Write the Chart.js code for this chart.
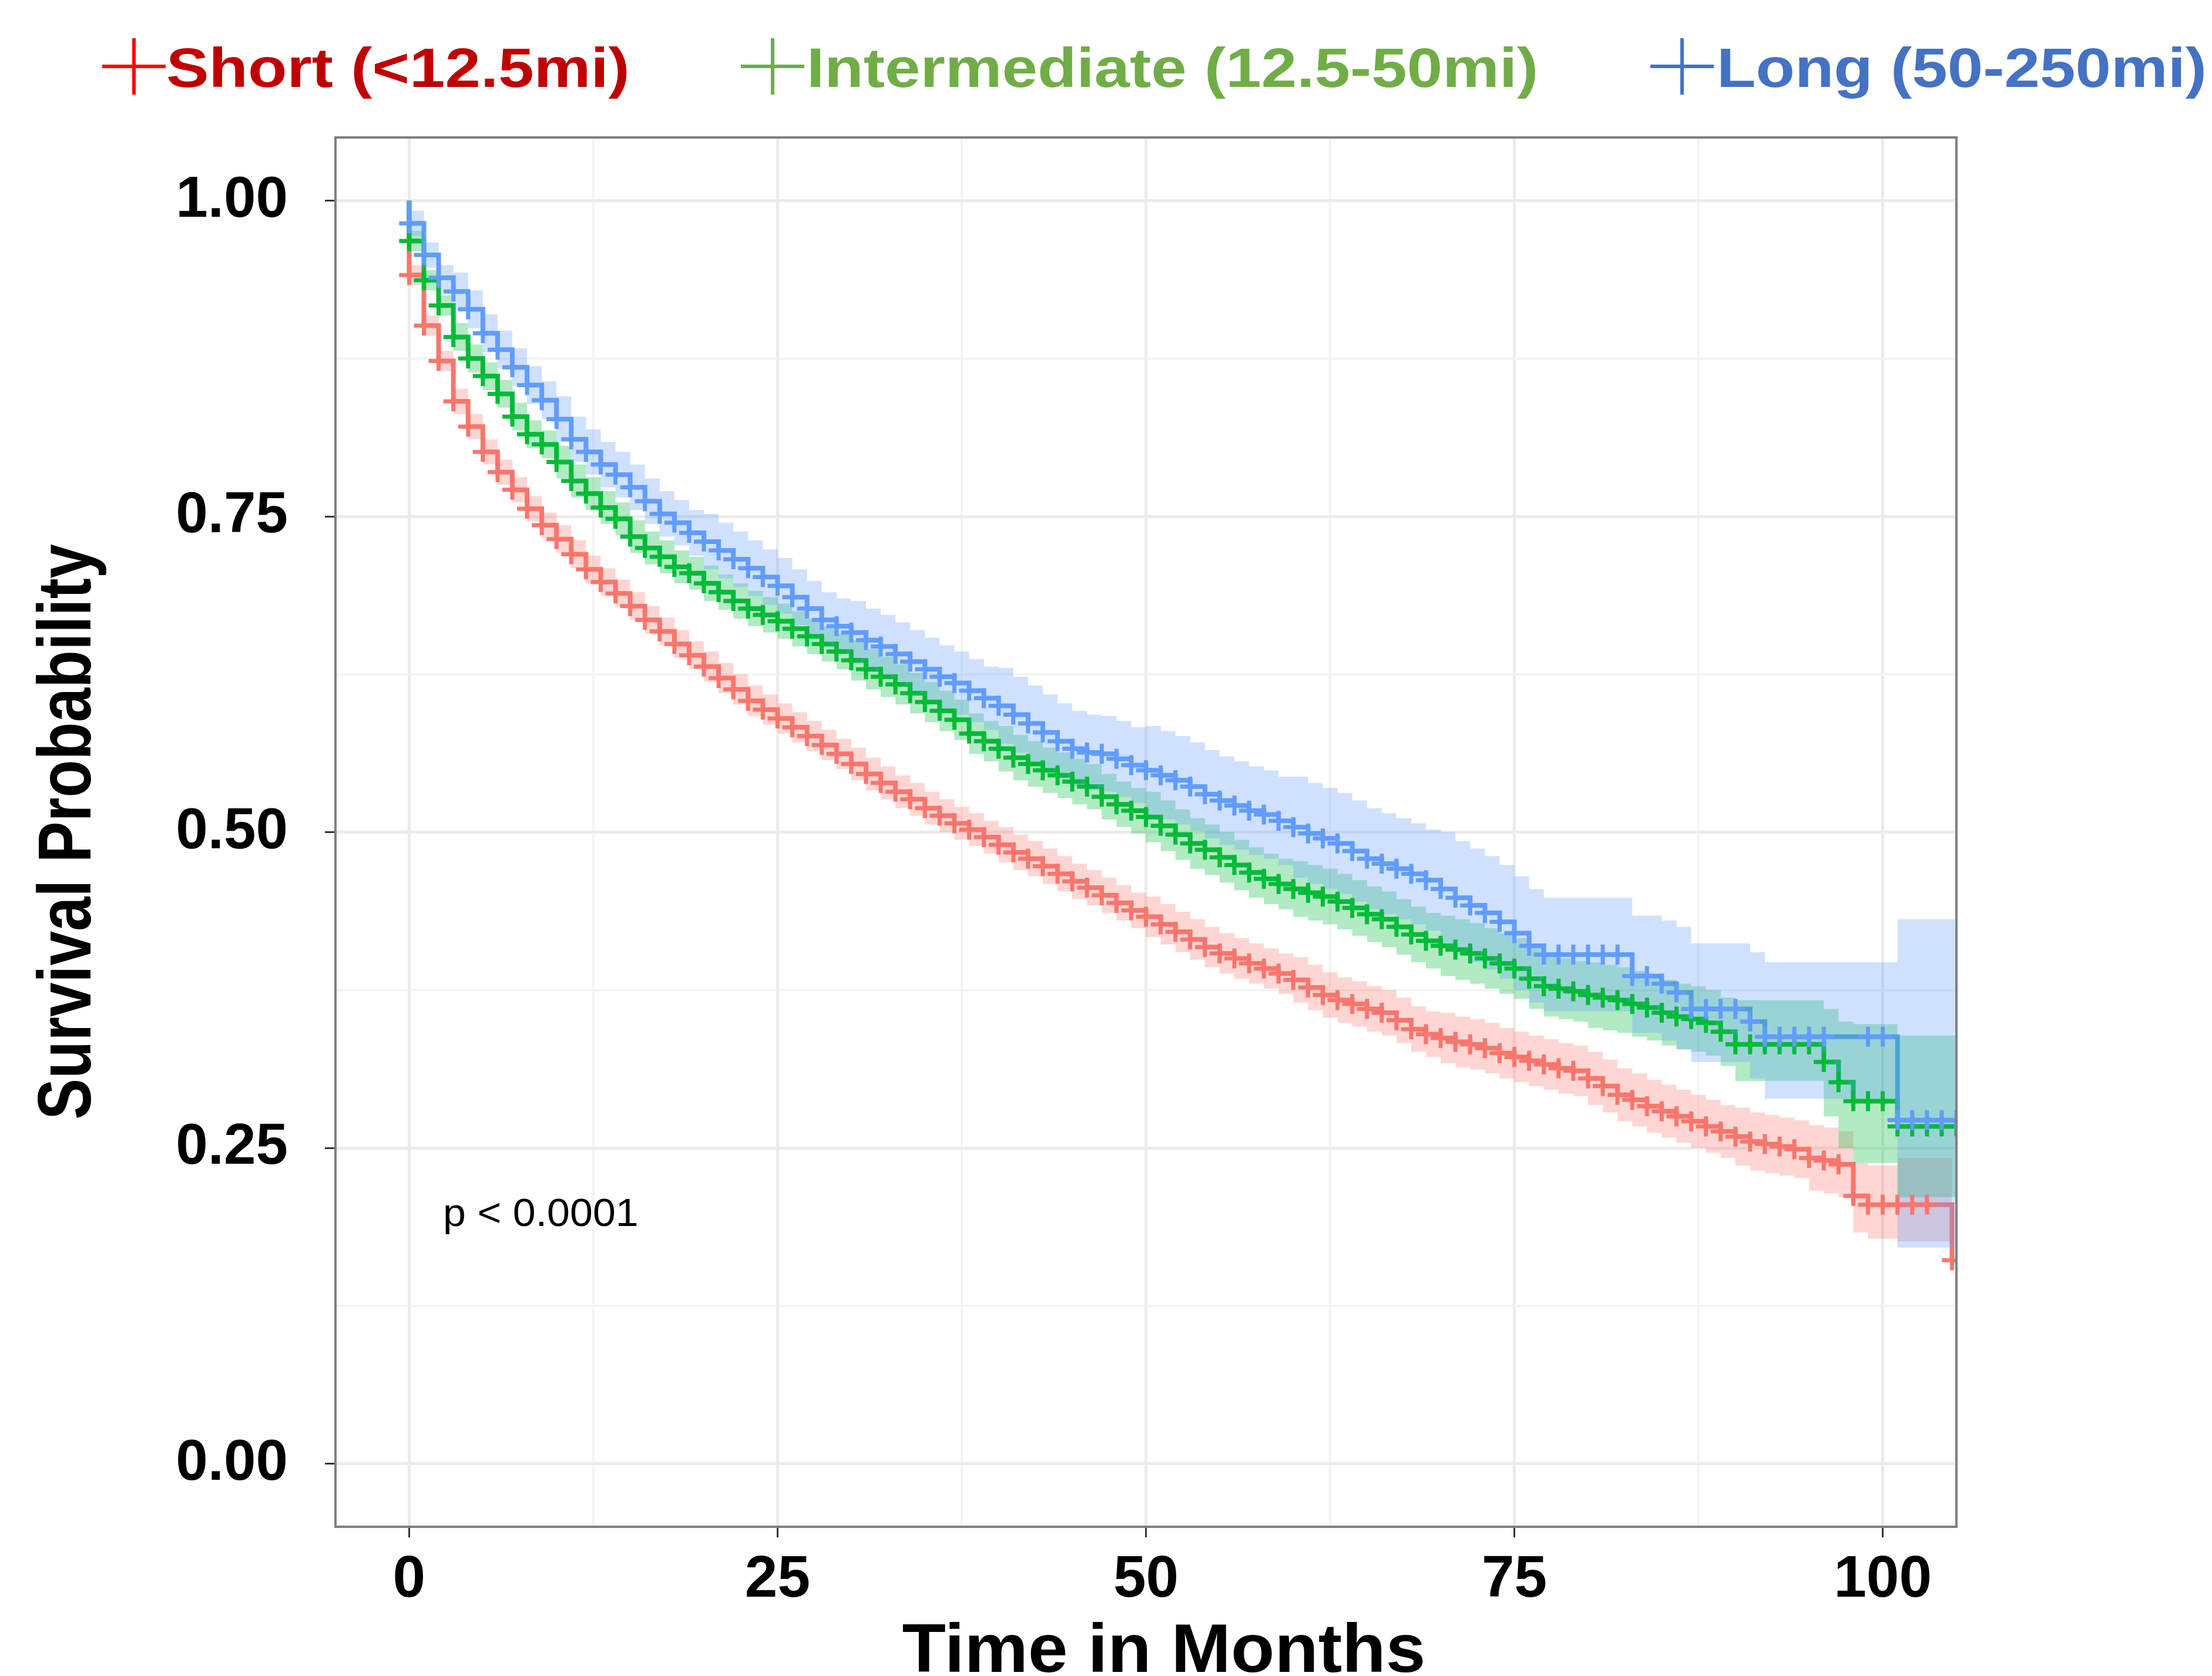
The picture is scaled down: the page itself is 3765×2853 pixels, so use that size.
<!DOCTYPE html>
<html>
<head>
<meta charset="utf-8">
<title>Survival by travel distance</title>
<script src="https://cdn.jsdelivr.net/npm/chart.js@4.4.1/dist/chart.umd.min.js"></script>
<style>
  html, body { margin: 0; padding: 0; background: #ffffff; }
  #chart-wrapper { width: 3765px; height: 2853px; position: relative; }
</style>
</head>
<body>
<div id="chart-wrapper"><canvas id="survivalChart"></canvas></div>
<script>
// Kaplan-Meier estimates (months, survival, 95% band)
const shortMonths = [0,1,2,3,4,5,6,7,8,9,10,11,12,13,14,15,16,17,18,19,20,21,22,23,24,25,26,27,28,29,30,31,32,33,34,35,36,37,38,39,40,41,42,43,44,45,46,47,48,49,50,51,52,53,54,55,56,57,58,59,60,61,62,63,64,65,66,67,68,69,70,71,72,73,74,75,76,77,78,79,80,81,82,83,84,85,86,87,88,89,90,91,92,93,94,95,96,97,98,99,100,101,102,103,104.7];
const shortSurv = [
  .941,.901,.873,.841,.821,.801,.785,.771,.756,.743,
  .732,.720,.708,.698,.689,.679,.668,.659,.649,.640,
  .631,.622,.613,.604,.597,.590,.583,.576,.569,.562,
  .554,.546,.539,.532,.526,.519,.513,.507,.502,.496,
  .490,.484,.479,.473,.467,.461,.456,.450,.444,.438,
  .433,.427,.421,.415,.409,.404,.400,.396,.392,.388,
  .383,.377,.371,.367,.364,.360,.357,.351,.344,.340,
  .337,.334,.332,.329,.325,.322,.319,.316,.313,.311,
  .305,.299,.292,.288,.283,.279,.275,.271,.267,.263,
  .259,.255,.253,.251,.249,.242,.240,.237,.212,.205,
  .205,.205,.205,.205,.161];
const shortLower = [
  .933,.893,.865,.831,.811,.791,.775,.761,.746,.733,
  .721,.709,.697,.687,.678,.668,.657,.648,.638,.629,
  .619,.610,.601,.592,.585,.578,.571,.564,.557,.550,
  .541,.533,.526,.519,.513,.506,.500,.494,.489,.483,
  .476,.470,.465,.459,.453,.447,.442,.436,.430,.424,
  .417,.411,.405,.399,.393,.388,.384,.380,.376,.372,
  .365,.359,.353,.349,.346,.342,.339,.333,.326,.322,
  .317,.314,.312,.309,.305,.302,.299,.296,.293,.291,
  .284,.278,.271,.267,.262,.258,.254,.250,.246,.242,
  .236,.232,.230,.228,.226,.216,.214,.211,.183,.178,
  .178,.176,.176,.176,.125];
const shortUpper = [
  .949,.909,.881,.851,.831,.811,.795,.781,.766,.753,
  .743,.731,.719,.709,.700,.690,.679,.670,.660,.651,
  .643,.634,.625,.616,.609,.602,.595,.588,.581,.574,
  .567,.559,.552,.545,.539,.532,.526,.520,.515,.509,
  .504,.498,.493,.487,.481,.475,.470,.464,.458,.452,
  .449,.443,.437,.431,.425,.420,.416,.412,.408,.404,
  .401,.395,.389,.385,.382,.378,.375,.369,.362,.358,
  .357,.354,.352,.349,.345,.342,.339,.336,.333,.331,
  .326,.320,.313,.309,.304,.300,.296,.292,.288,.284,
  .282,.278,.276,.274,.272,.268,.266,.263,.238,.236,
  .236,.242,.242,.242,.205];

const interMonths = [0,1,2,3,4,5,6,7,8,9,10,11,12,13,14,15,16,17,18,19,20,21,22,23,24,25,26,27,28,29,30,31,32,33,34,35,36,37,38,39,40,41,42,43,44,45,46,47,48,49,50,51,52,53,54,55,56,57,58,59,60,61,62,63,64,65,66,67,68,69,70,71,72,73,74,75,76,77,78,79,80,81,82,83,84,85,86,87,88,89,90,91,92,93,94,95,96,97,98,99,100,101,102,103,104,105];
const interSurv = [
  .968,.937,.917,.892,.875,.861,.847,.829,.815,.807,
  .793,.778,.768,.757,.748,.734,.725,.718,.710,.705,
  .697,.690,.683,.677,.672,.667,.661,.655,.649,.643,
  .636,.629,.623,.617,.610,.603,.596,.589,.578,.572,
  .566,.559,.554,.549,.545,.540,.536,.528,.522,.517,
  .512,.505,.498,.491,.486,.480,.474,.468,.463,.459,
  .455,.452,.449,.445,.440,.435,.431,.425,.419,.414,
  .410,.407,.404,.400,.396,.392,.384,.378,.376,.374,
  .371,.369,.367,.364,.361,.357,.354,.352,.349,.342,
  .332,.332,.332,.332,.332,.332,.318,.302,.287,.287,
  .287,.267,.267,.267,.267,.267];
const interLower = [
  .960,.929,.909,.881,.864,.850,.836,.818,.804,.796,
  .780,.765,.755,.744,.735,.721,.712,.705,.697,.692,
  .683,.676,.669,.663,.658,.653,.647,.641,.635,.629,
  .620,.613,.607,.601,.594,.587,.580,.573,.562,.556,
  .548,.541,.536,.531,.527,.522,.518,.510,.504,.499,
  .492,.485,.478,.471,.466,.460,.454,.448,.443,.439,
  .433,.430,.427,.423,.418,.413,.409,.403,.397,.392,
  .386,.383,.380,.376,.372,.368,.360,.354,.352,.350,
  .345,.343,.341,.338,.335,.331,.328,.326,.323,.315,
  .303,.303,.303,.303,.303,.303,.275,.250,.238,.238,
  .238,.211,.211,.211,.211,.211];
const interUpper = [
  .976,.945,.925,.903,.886,.872,.858,.840,.826,.818,
  .806,.791,.781,.770,.761,.747,.738,.731,.723,.718,
  .711,.704,.697,.691,.686,.681,.675,.669,.663,.657,
  .652,.645,.639,.633,.626,.619,.612,.605,.594,.588,
  .584,.577,.572,.567,.563,.558,.554,.546,.540,.535,
  .532,.525,.518,.511,.506,.500,.494,.488,.483,.479,
  .477,.474,.471,.467,.462,.457,.453,.447,.441,.436,
  .434,.431,.428,.424,.420,.416,.408,.402,.400,.398,
  .397,.395,.393,.390,.387,.383,.380,.378,.375,.369,
  .367,.367,.367,.367,.367,.367,.360,.350,.348,.348,
  .348,.339,.339,.339,.339,.339];

const longMonths = [0,1,2,3,4,5,6,7,8,9,10,11,12,13,14,15,16,17,18,19,20,21,22,23,24,25,26,27,28,29,30,31,32,33,34,35,36,37,38,39,40,41,42,43,44,45,46,47,48,49,50,51,52,53,54,55,56,57,58,59,60,61,62,63,64,65,66,67,68,69,70,71,72,73,74,75,76,77,78,79,80,81,82,83,84,85,86,87,88,89,90,91,92,93,94,95,96,99,100,101,102,103,104,105];
const longSurv = [
  .982,.957,.939,.928,.914,.895,.882,.868,.854,.842,
  .827,.811,.801,.791,.783,.773,.762,.752,.745,.737,
  .730,.723,.716,.709,.702,.695,.686,.677,.668,.663,
  .658,.652,.647,.641,.635,.629,.623,.618,.612,.606,
  .600,.593,.586,.579,.572,.566,.563,.562,.558,.553,
  .549,.545,.541,.536,.530,.525,.521,.517,.514,.509,
  .504,.499,.495,.491,.485,.479,.475,.471,.467,.462,
  .455,.448,.442,.436,.429,.420,.410,.403,.403,.403,
  .403,.403,.403,.386,.386,.380,.373,.360,.360,.360,
  .360,.350,.338,.338,.338,.338,.338,
  .338,.338,.272,.272,.272,.272,.272];
const longLower = [
  .972,.947,.929,.913,.899,.880,.867,.853,.839,.827,
  .809,.793,.783,.773,.765,.755,.744,.734,.727,.719,
  .708,.701,.694,.687,.680,.673,.664,.655,.646,.641,
  .633,.627,.622,.616,.610,.604,.598,.593,.587,.581,
  .570,.563,.556,.549,.542,.536,.533,.532,.528,.523,
  .514,.510,.506,.501,.495,.490,.486,.482,.479,.474,
  .464,.459,.455,.451,.445,.439,.435,.431,.427,.422,
  .410,.403,.397,.391,.384,.375,.365,.358,.358,.358,
  .358,.358,.358,.341,.341,.335,.328,.318,.318,.318,
  .318,.305,.289,.289,.289,.289,.289,
  .289,.289,.171,.171,.171,.171,.171];
const longUpper = [
  .992,.967,.949,.943,.929,.910,.897,.883,.869,.857,
  .845,.829,.819,.809,.801,.791,.780,.770,.763,.755,
  .752,.745,.738,.731,.724,.717,.708,.699,.690,.685,
  .683,.677,.672,.666,.660,.654,.648,.643,.637,.631,
  .630,.623,.616,.609,.602,.596,.593,.592,.588,.583,
  .584,.580,.576,.571,.565,.560,.556,.552,.549,.544,
  .544,.539,.535,.531,.525,.519,.515,.511,.507,.502,
  .500,.493,.487,.481,.474,.465,.455,.448,.448,.448,
  .448,.448,.448,.434,.434,.430,.425,.412,.412,.412,
  .412,.405,.397,.397,.397,.397,.397,
  .397,.397,.431,.431,.431,.431,.431];

// Axis ticks
const xTickLabels = [0, 25, 50, 75, 100];
const xMinorTicks = [12.5, 37.5, 62.5, 87.5];
const yTickLabels = [0, 0.25, 0.5, 0.75, 1];
const yMinorTicks = [0.125, 0.375, 0.625, 0.875];

const groupLabels = ["Short (<12.5mi)", "Intermediate (12.5-50mi)", "Long (50-250mi)"];
const pValueText = "p < 0.0001";

const FONT = "'Liberation Sans', Arial, Helvetica, sans-serif";
Chart.defaults.font.family = FONT;

function toPoints(months, values) {
  return months.map((m, i) => ({ x: m, y: values[i] }));
}

const groups = [
  { months: shortMonths, surv: shortSurv, lower: shortLower, upper: shortUpper, color: "#F8766D", band: "rgba(248, 118, 109, 0.3)" },
  { months: interMonths, surv: interSurv, lower: interLower, upper: interUpper, color: "#00BA38", band: "rgba(0, 186, 56, 0.3)" },
  { months: longMonths, surv: longSurv, lower: longLower, upper: longUpper, color: "#619CFF", band: "rgba(97, 156, 255, 0.3)" },
];

// ggsurvplot layer order: step lines, then ribbons, then censor marks
const datasets = [];
groups.forEach((g, i) => {
  datasets.push({
    label: groupLabels[i],
    data: [{ x: 0, y: 1 }].concat(toPoints(g.months, g.surv)),
    stepped: true,
    borderColor: g.color,
    borderWidth: 8,
    borderCapStyle: "butt",
    borderJoinStyle: "miter",
    pointRadius: 0,
    fill: false,
    order: 30 - i,
  });
});
groups.forEach((g, i) => {
  datasets.push({
    data: toPoints(g.months, g.upper),
    stepped: true,
    borderWidth: 0,
    borderColor: "rgba(0,0,0,0)",
    backgroundColor: g.band,
    pointRadius: 0,
    fill: "+1",
    order: 20 - i,
  });
  datasets.push({
    data: toPoints(g.months, g.lower),
    stepped: true,
    borderWidth: 0,
    borderColor: "rgba(0,0,0,0)",
    pointRadius: 0,
    fill: false,
    order: 20 - i,
  });
});
groups.forEach((g, i) => {
  datasets.push({
    data: toPoints(g.months, g.surv),
    showLine: false,
    pointStyle: "cross",
    pointRadius: 17,
    pointBorderWidth: 7,
    pointBorderColor: g.color,
    borderColor: g.color,
    order: 10 - i,
  });
});

function drawText(ctx, text, x, y, opts) {
  ctx.save();
  ctx.translate(x, y);
  if (opts.rotate) ctx.rotate(opts.rotate);
  ctx.scale(opts.stretch || 1, 1);
  ctx.font = opts.font;
  ctx.fillStyle = opts.color || "#000000";
  ctx.textAlign = opts.align || "left";
  ctx.textBaseline = "alphabetic";
  ctx.fillText(text, 0, 0);
  ctx.restore();
}

// Panel border, legend, axis titles and p-value
const decorations = {
  id: "decorations",
  afterDatasetsDraw(chart) {
    const { ctx, chartArea } = chart;
    ctx.save();
    ctx.strokeStyle = "#7f7f7f";
    ctx.lineWidth = 4;
    ctx.strokeRect(chartArea.left, chartArea.top, chartArea.right - chartArea.left, chartArea.bottom - chartArea.top);
    ctx.restore();

    const px = chart.scales.x.getPixelForValue(2.3);
    const py = chart.scales.y.getPixelForValue(0.188);
    drawText(ctx, pValueText, px, py, { font: "66px " + FONT, stretch: 1.06 });
  },
  afterDraw(chart) {
    const ctx = chart.ctx;
    const legendItems = [
      { cx: 228, tx: 283, cross: "#FF0000", text: "#C00000" },
      { cx: 1315, tx: 1373, cross: "#70AD47", text: "#70AD47" },
      { cx: 2863, tx: 2922, cross: "#4472C4", text: "#4472C4" },
    ];
    legendItems.forEach((item, i) => {
      ctx.save();
      ctx.strokeStyle = item.cross;
      ctx.lineWidth = 6;
      ctx.beginPath();
      ctx.moveTo(item.cx - 54, 113);
      ctx.lineTo(item.cx + 54, 113);
      ctx.moveTo(item.cx, 65);
      ctx.lineTo(item.cx, 161);
      ctx.stroke();
      ctx.restore();
      drawText(ctx, groupLabels[i], item.tx, 148, { font: "bold 95px " + FONT, color: item.text, stretch: 1.145 });
    });

    drawText(ctx, "Time in Months", 1981, 2846, { font: "bold 116px " + FONT, align: "center", stretch: 1.05 });
    drawText(ctx, "Survival Probability", 154, 1416, { font: "bold 128px " + FONT, align: "center", stretch: 0.82, rotate: -Math.PI / 2 });
  },
};

function isMajor(list, value) {
  return list.some((v) => Math.abs(v - value) < 1e-9);
}

function gridOptions(majors) {
  return {
    color: (c) => (c.tick && isMajor(majors, c.tick.value) ? "#EBEBEB" : "#F3F3F3"),
    lineWidth: (c) => (c.tick && isMajor(majors, c.tick.value) ? 5 : 3.5),
    tickColor: (c) => (c.tick && isMajor(majors, c.tick.value) ? "#333333" : "rgba(0,0,0,0)"),
    tickWidth: 3,
    tickLength: 18,
    drawOnChartArea: true,
  };
}

const survivalChart = new Chart(document.getElementById("survivalChart"), {
  type: "line",
  data: { datasets: datasets },
  plugins: [decorations],
  options: {
    responsive: true,
    maintainAspectRatio: false,
    devicePixelRatio: 1,
    animation: false,
    events: [],
    layout: { padding: { left: 0, right: 435, top: 234, bottom: 0 } },
    plugins: {
      legend: { display: false },
      tooltip: { enabled: false },
      title: { display: false },
    },
    scales: {
      x: {
        type: "linear",
        min: -5,
        max: 105,
        afterBuildTicks: (scale) => {
          scale.ticks = xTickLabels.concat(xMinorTicks).sort((a, b) => a - b).map((v) => ({ value: v }));
        },
        afterFit: (scale) => { scale.height = 254; },
        ticks: {
          autoSkip: false,
          maxRotation: 0,
          padding: 13,
          color: "#000000",
          font: { size: 100, weight: "bold" },
          callback: (value) => (isMajor(xTickLabels, value) ? String(value) : ""),
        },
        grid: gridOptions(xTickLabels),
        border: { display: false },
      },
      y: {
        type: "linear",
        min: -0.05,
        max: 1.05,
        afterBuildTicks: (scale) => {
          scale.ticks = yTickLabels.concat(yMinorTicks).sort((a, b) => a - b).map((v) => ({ value: v }));
        },
        afterFit: (scale) => { scale.width = 571; },
        ticks: {
          autoSkip: false,
          padding: 63,
          color: "#000000",
          font: { size: 98, weight: "bold" },
          callback: (value) => (isMajor(yTickLabels, value) ? value.toFixed(2) : ""),
        },
        grid: gridOptions(yTickLabels),
        border: { display: false },
      },
    },
  },
});
</script>
</body>
</html>
